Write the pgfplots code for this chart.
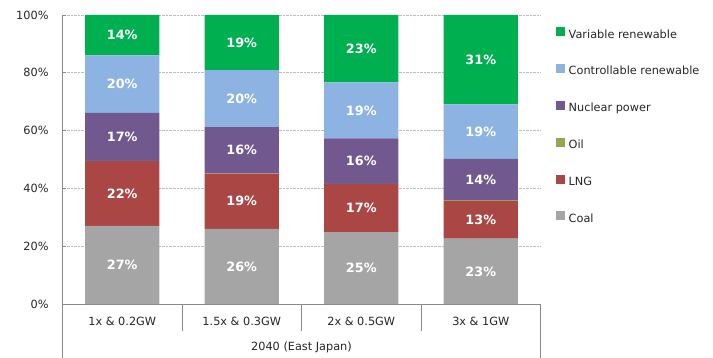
\documentclass[border=0pt]{standalone}
\usepackage{pgfplots}
\usepackage{pgfplotstable}
\pgfplotsset{compat=1.18}
\usepackage{fontspec}
\setmainfont{DejaVu Sans}
\definecolor{cVar}{HTML}{00B050}
\definecolor{cCtrl}{HTML}{8DB3E2}
\definecolor{cNuc}{HTML}{71588F}
\definecolor{cOil}{HTML}{8FAA4E}
\definecolor{cLNG}{HTML}{AA4643}
\definecolor{cCoal}{HTML}{A5A5A5}
\definecolor{axgray}{HTML}{898989}
\definecolor{txt}{HTML}{262626}

\pgfplotstableread{
x y lab
0 27.0 27
1 26.0 26
2 24.9 25
3 22.6 23
}\coal
\pgfplotstableread{
x y lab
0 22.4 22
1 19.1 19
2 16.6 17
3 13.0 13
}\lng
\pgfplotstableread{
x y lab
0 0.1 0
1 0.1 0
2 0.1 0
3 0.3 0
}\oil
\pgfplotstableread{
x y lab
0 16.6 17
1 16.0 16
2 15.7 16
3 14.3 14
}\nuc
\pgfplotstableread{
x y lab
0 19.9 20
1 19.7 20
2 19.4 19
3 18.9 19
}\ctrl
\pgfplotstableread{
x y lab
0 14.0 14
1 19.1 19
2 23.3 23
3 30.9 31
}\var

\pgfplotsset{
  sq/.style={legend image code/.code={\fill[##1] (0bp,-1.3bp) rectangle (9bp,7.7bp);}},
  lbl/.style={
    point meta=explicit,
    nodes near coords={\pgfmathprintnumber{\pgfplotspointmeta}\%},
  },
}

\begin{document}
\fontsize{11.3bp}{13.5bp}\selectfont
\begin{tikzpicture}
\path[use as bounding box] (-62.5bp,-54bp) rectangle (650.5bp,304bp);
\begin{axis}[
  at={(0,0)}, anchor=south west,
  scale only axis, width=478bp, height=289bp,
  xmin=-0.5, xmax=3.5, ymin=0, ymax=100,
  ybar stacked, bar width=0.62,
  /pgf/number format/assume math mode=true,
  axis x line*=bottom, axis y line*=left,
  axis line style={axgray, line width=0.8bp},
  ytick={0,20,...,100},
  yticklabel={\pgfmathprintnumber{\tick}\%},
  yticklabel style={text=txt, xshift=-10bp},
  ymajorgrids, grid style={densely dotted, gray!50, line width=0.6bp},
  major tick length=4bp,
  ytick style={axgray, line width=0.6bp},
  xtick={0,1,2,3},
  xticklabels={1x \& 0.2GW, 1.5x \& 0.3GW, 2x \& 0.5GW, 3x \& 1GW},
  xtick style={draw=none},
  xticklabel style={text=txt, yshift=-9.5bp},
  xlabel={2040 (East Japan)},
  xlabel style={at={(axis description cs:0.5,0)}, anchor=center, yshift=-43.5bp, text=txt},
  every node near coord/.append style={text=white,
      font=\fontsize{12.8bp}{14bp}\selectfont\bfseries},
  reverse legend,
  legend style={draw=none, fill=none, at={(1,1)}, anchor=north west,
    xshift=15bp, yshift=-12.3bp, inner sep=0pt, row sep=23.6bp, column sep=4bp,
    nodes={inner sep=0pt, text height=8.5bp, text depth=2.5bp, text=txt}},
  legend cell align=left,
  clip=false,
]
\addplot[fill=cCoal, draw=none, sq, lbl] table[x=x, y=y, meta=lab] {\coal};
\addlegendentry{Coal}
\addplot[fill=cLNG, draw=none, sq, lbl] table[x=x, y=y, meta=lab] {\lng};
\addlegendentry{LNG}
\addplot[fill=cOil, draw=none, sq] table[x=x, y=y] {\oil};
\addlegendentry{Oil}
\addplot[fill=cNuc, draw=none, sq, lbl] table[x=x, y=y, meta=lab] {\nuc};
\addlegendentry{Nuclear power}
\addplot[fill=cCtrl, draw=none, sq, lbl] table[x=x, y=y, meta=lab] {\ctrl};
\addlegendentry{Controllable renewable}
\addplot[fill=cVar, draw=none, sq, lbl] table[x=x, y=y, meta=lab] {\var};
\addlegendentry{Variable renewable}
\draw[axgray, line width=0.8bp] (axis cs:-0.5,100) -- (axis cs:-0.5,0) -- ([yshift=-54bp]axis cs:-0.5,0);
\draw[axgray, line width=0.8bp] (axis cs:3.5,0) -- ([yshift=-54bp]axis cs:3.5,0);
\draw[axgray, line width=0.8bp] (axis cs:0.5,0) -- ([yshift=-27bp]axis cs:0.5,0);
\draw[axgray, line width=0.8bp] (axis cs:1.5,0) -- ([yshift=-27bp]axis cs:1.5,0);
\draw[axgray, line width=0.8bp] (axis cs:2.5,0) -- ([yshift=-27bp]axis cs:2.5,0);
\end{axis}
\end{tikzpicture}
\end{document}
